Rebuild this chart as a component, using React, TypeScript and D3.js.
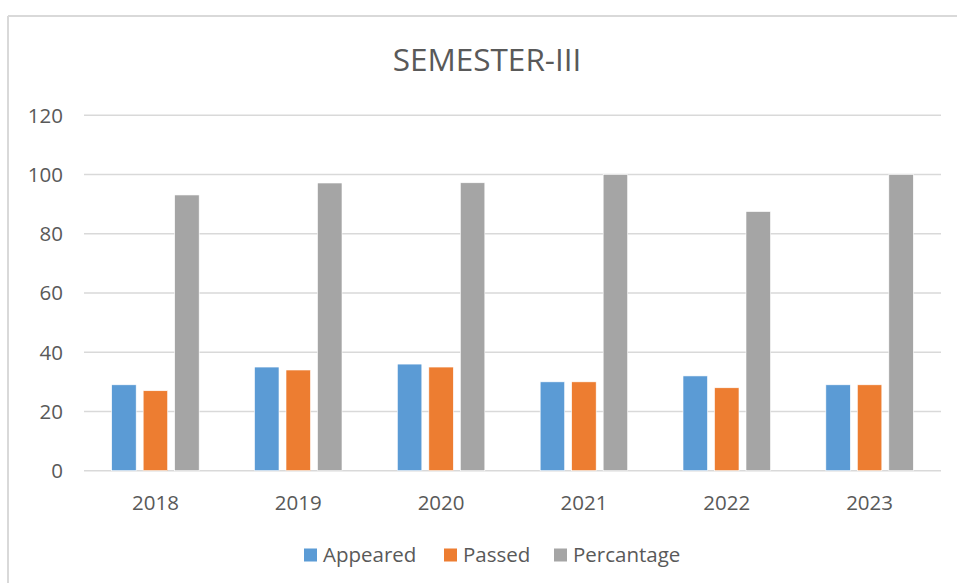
import React from "react";
import * as d3 from "d3";

const years = ["2018", "2019", "2020", "2021", "2022", "2023"];
const appeared = [29, 35, 36, 30, 32, 29];
const passed = [27, 34, 35, 30, 28, 29];
const percentage = [93.1, 97.14, 97.22, 100, 87.5, 100];
const seriesNames = ["Appeared", "Passed", "Percantage"];
const seriesColors = ["#5b9bd5", "#ed7d31", "#a5a5a5"];
const yTicks = [0, 20, 40, 60, 80, 100, 120];
const title = "SEMESTER-III";

const W = 957;
const H = 583;
const FONT = "'Open Sans', sans-serif";

export default function App() {
  const series = [appeared, passed, percentage];
  const x = d3.scaleBand<string>().domain(years).range([84, 941]).padding(0);
  const y = d3.scaleLinear().domain([0, 120]).range([470.7, 115.3]);
  const bw = x.bandwidth();
  const barW = bw * 0.1715;
  const step = bw * 0.2205;
  const textColor = "#595959";

  const legendX = [304, 444, 554];

  return (
    <svg
      width={W}
      height={H}
      style={{ position: "absolute", left: 0, top: 0, background: "#fff" }}
      fontFamily={FONT}
    >
      <rect x={0} y={0} width={W} height={H} fill="#fff" />
      {/* chart border */}
      <line x1={8} y1={16} x2={W} y2={16} stroke="#d9d9d9" strokeWidth={2} />
      <line x1={8} y1={16} x2={8} y2={H} stroke="#d9d9d9" strokeWidth={2} />

      <text x={487} y={70.5} textAnchor="middle" fontSize={31.5} fill={textColor}>
        {title}
      </text>

      {yTicks.map((t) => (
        <g key={t}>
          <line
            x1={84}
            x2={941}
            y1={y(t)}
            y2={y(t)}
            stroke="#d9d9d9"
            strokeWidth={1.5}
          />
          <text
            x={63}
            y={y(t)}
            dy="0.36em"
            textAnchor="end"
            fontSize={20.5}
            fill={textColor}
          >
            {t}
          </text>
        </g>
      ))}

      {years.map((yr, i) => {
        const cx = (x(yr) as number) + bw / 2;
        return (
          <g key={yr}>
            {series.map((s, k) => {
              const bx = cx + (k - 1) * step - barW / 2;
              return (
                <rect
                  key={k}
                  x={bx}
                  y={y(s[i])}
                  width={barW}
                  height={y(0) - y(s[i])}
                  fill={seriesColors[k]}
                  stroke="#fff"
                  strokeWidth={0.6}
                />
              );
            })}
            <text
              x={cx}
              y={510}
              textAnchor="middle"
              fontSize={20.5}
              fill={textColor}
            >
              {yr}
            </text>
          </g>
        );
      })}

      {seriesNames.map((n, k) => (
        <g key={n}>
          <rect
            x={legendX[k]}
            y={548.5}
            width={13}
            height={13}
            fill={seriesColors[k]}
          />
          <text
            x={legendX[k] + 19}
            y={561.5}
            fontSize={20.5}
            fill={textColor}
          >
            {n}
          </text>
        </g>
      ))}
    </svg>
  );
}
